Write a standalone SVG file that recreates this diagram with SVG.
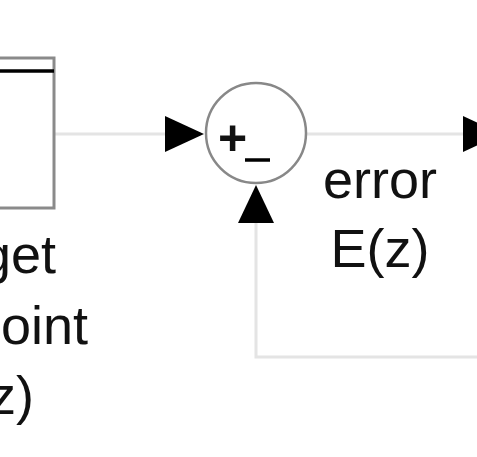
<svg xmlns="http://www.w3.org/2000/svg" width="477" height="457" viewBox="0 0 477 457">
<style>
.lbl{font-family:"Liberation Sans",Arial,sans-serif;font-size:54px;fill:#111}
.wire{fill:none;stroke:#e4e4e4;stroke-width:3}
.head{fill:#000}
</style>
<rect width="477" height="457" fill="#fff"/>
<g id="connectors">
<line class="wire" x1="55" y1="134" x2="167" y2="134"/>
<polygon class="head" points="165,116 204,134 165,152"/>
<line class="wire" x1="307" y1="134" x2="465" y2="134"/>
<polygon class="head" points="463,116 502,134 463,152"/>
<polyline class="wire" points="490,357 256,357 256,220"/>
<polygon class="head" points="238,223 256,185 274,223"/>
</g>
<g id="setpoint">
<rect x="-60" y="58" width="114" height="150" fill="#fff" stroke="#8a8a8a" stroke-width="3"/>
<line x1="-60" y1="71" x2="54" y2="71" stroke="#000" stroke-width="3.5"/>
<text class="lbl" x="56" y="273" text-anchor="end">get</text>
<text class="lbl" x="88" y="344" text-anchor="end">oint</text>
<text class="lbl" x="34" y="414" text-anchor="end">z)</text>
</g>
<g id="sum">
<circle cx="256" cy="133" r="50" fill="#fff" stroke="#888" stroke-width="2.5"/>
<text class="lbl" x="218" y="155" font-weight="bold" style="font-size:50px">+</text>
<line x1="245" y1="160" x2="270" y2="160" stroke="#000" stroke-width="3.5"/>
</g>
<g id="error">
<text class="lbl" x="380" y="198" text-anchor="middle">error</text>
<text class="lbl" x="380" y="267" text-anchor="middle">E(z)</text>
</g>
</svg>
